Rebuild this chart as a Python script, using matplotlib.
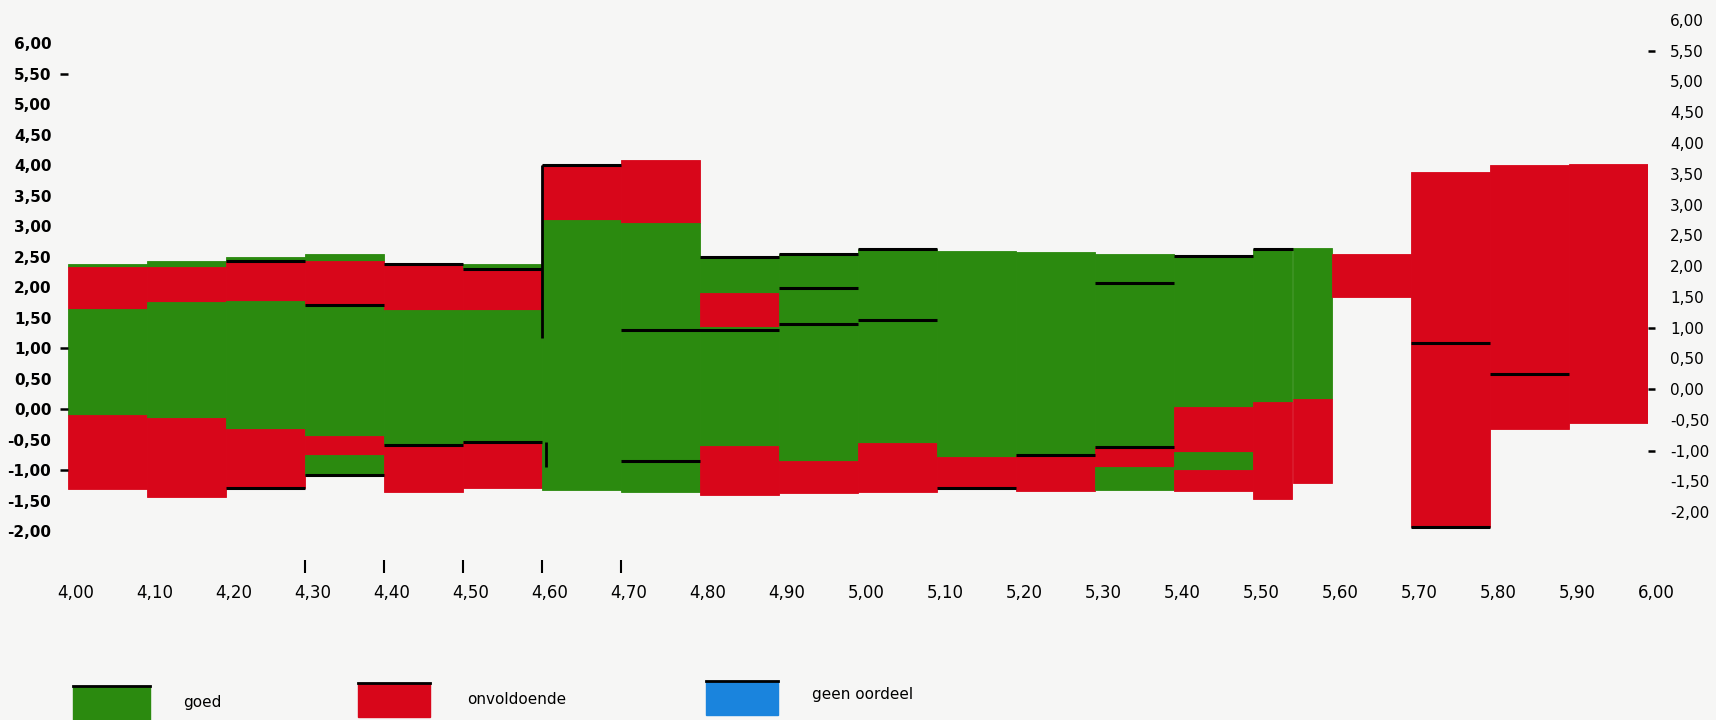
import numpy as np
import matplotlib
matplotlib.use("Agg")
import matplotlib.pyplot as plt
import matplotlib.ticker as mtick
import matplotlib.transforms as mtrans

# bins along the x axis (left / right edge)
bin_left = [4.00, 4.10, 4.20, 4.30, 4.40, 4.50, 4.60, 4.70, 4.80, 4.90, 5.00,
            5.10, 5.20, 5.30, 5.40, 5.50, 5.55, 5.60, 5.70, 5.80, 5.90]
bin_right = [4.10, 4.20, 4.30, 4.40, 4.50, 4.60, 4.70, 4.80, 4.90, 5.00, 5.10,
             5.20, 5.30, 5.40, 5.50, 5.55, 5.60, 5.70, 5.80, 5.90, 6.00]

# segment boundaries per bin, top to bottom
bounds = [
    [2.38, 2.33, 1.64, -0.10, -1.31],
    [2.43, 2.33, 1.75, -0.15, -1.44],
    [2.49, 2.41, 1.77, -0.33, -1.30],
    [2.54, 2.43, 1.70, -0.44, -0.75, -1.08],
    [2.37, 1.62, -0.59, -1.36],
    [2.38, 2.30, 1.63, -0.54, -1.30],
    [4.00, 3.10, -1.33],
    [4.09, 3.05, -1.36],
    [2.49, 1.91, 1.35, -0.61, -1.41],
    [2.54, -0.86, -1.37],
    [2.62, -0.55, -1.36],
    [2.59, -0.79, -1.30],
    [2.57, -0.75, -1.34],
    [2.54, -0.63, -0.95, -1.32],
    [2.51, 0.04, -0.70, -1.00, -1.34],
    [2.62, 0.12, -1.48],
    [2.64, 0.16, -1.21],
    [2.54, 1.84],
    [3.89, -1.93],
    [4.00, -0.32],
    [4.02, -0.23],
]
# oordeel of each segment (g = goed, o = onvoldoende)
segs = [
    "gogo", "gogo", "gogo", "gogog", "ogo", "gogo", "og", "og", "gogo",
    "go", "go", "go", "go", "gog", "gogo", "go", "go", "o", "o", "o", "o",
]

# black marker lines: x from, x to, value
line_x0 = [4.20, 4.20, 4.30, 4.30, 4.40, 4.40, 4.50, 4.50, 4.60, 4.70, 4.70,
           4.80, 4.90, 4.90, 4.90, 5.00, 5.00, 5.10, 5.20, 5.30, 5.30, 5.40,
           5.50, 5.70, 5.70, 5.80]
line_x1 = [4.30, 4.30, 4.40, 4.40, 4.50, 4.50, 4.60, 4.60, 4.70, 4.90, 4.80,
           4.90, 5.00, 5.00, 5.00, 5.10, 5.10, 5.20, 5.30, 5.40, 5.40, 5.50,
           5.55, 5.80, 5.80, 5.90]
line_y = [2.42, -1.30, 1.70, -1.08, 2.38, -0.59, 2.30, -0.54, 4.00, 1.30, -0.86,
          2.49, 2.54, 1.98, 1.40, 2.62, 1.46, -1.30, -0.75, 2.07, -0.63, 2.51,
          2.62, 1.08, -1.93, 0.57]
vline_x = [4.60, 4.605]
vline_top = [4.00, -0.54]
vline_bottom = [1.16, -0.95]

colors = {"g": "#2b8a0f", "o": "#d8061a", "b": "#1a84dd"}
legend_labels = ["goed", "onvoldoende", "geen oordeel"]

x_ticks = np.round(np.arange(4.0, 6.001, 0.1), 2)
marked_x = [4.3, 4.4, 4.5, 4.6, 4.7]
y_ticks = np.arange(-2.0, 6.001, 0.5)
marked_y = [5.5, 1.0, 0.0, -1.0]

W, H = 1716, 720
fig = plt.figure(figsize=(W / 100, H / 100), dpi=100)
fig.patch.set_facecolor("#f6f6f5")
ax = fig.add_axes([68 / W, 1 - 560 / H, 1580 / W, 560 / H])
ax.set_facecolor("none")

for left, right, b, s in zip(bin_left, bin_right, bounds, segs):
    for i, key in enumerate(s):
        ax.bar(left, b[i] - b[i + 1], bottom=b[i + 1], width=right - left,
               align="edge", color=colors[key], edgecolor=colors[key], linewidth=0.6)

ax.hlines(line_y, line_x0, line_x1, color="black", linewidth=2.2)
ax.vlines(vline_x, vline_bottom, vline_top, color="black", linewidth=2.0)

ax.set_xlim(4.0, 6.0)
ax.set_ylim(-2.475, 6.705)
for sp in ax.spines.values():
    sp.set_visible(False)

comma = mtick.FuncFormatter(lambda v, p: ("%.2f" % v).replace(".", ","))

ax.xaxis.remove_overlapping_locs = False
ax.set_xticks(x_ticks)
ax.xaxis.set_major_formatter(comma)
ax.set_xticks(marked_x, minor=True)
ax.tick_params(axis="x", which="major", length=0, pad=17, labelsize=12)
ax.tick_params(axis="x", which="minor", length=9, width=1.5, direction="out")
shift = mtrans.ScaledTranslation(8 / 100, 0, fig.dpi_scale_trans)
for lbl in ax.get_xticklabels():
    lbl.set_transform(lbl.get_transform() + shift)

ax.yaxis.remove_overlapping_locs = False
ax.set_yticks(y_ticks)
ax.yaxis.set_major_formatter(comma)
ax.set_yticks(marked_y, minor=True)
ax.tick_params(axis="y", which="major", length=0, pad=12, labelsize=11)
ax.tick_params(axis="y", which="minor", length=6, width=1.8, direction="out")
for lbl in ax.get_yticklabels():
    lbl.set_fontweight("bold")

# right axis is printed slightly shifted in the original
ax2 = ax.twinx()
ax2.set_ylim(-2.78, 6.325)
for sp in ax2.spines.values():
    sp.set_visible(False)
ax2.yaxis.remove_overlapping_locs = False
ax2.set_yticks(y_ticks)
ax2.yaxis.set_major_formatter(comma)
ax2.set_yticks(marked_y, minor=True)
ax2.tick_params(axis="y", which="major", length=0, pad=16, labelsize=11)
ax2.tick_params(axis="y", which="minor", length=5, width=1.8, direction="out")

# legend drawn as loose boxes under the chart
box_x = [73, 358, 706]
box_y = [686, 683, 681]
box_w = [77, 72, 72]
txt_x = [183, 467, 812]
txt_y = [703, 700, 695]
for key, lab, bx, by, bw, tx, ty in zip("gob", legend_labels, box_x, box_y, box_w, txt_x, txt_y):
    fig.patches.append(plt.Rectangle((bx / W, 1 - (by + 34) / H), bw / W, 34 / H,
                                     transform=fig.transFigure, color=colors[key]))
    fig.lines.append(plt.Line2D([bx / W, (bx + bw) / W], [1 - by / H] * 2,
                                transform=fig.transFigure, color="black", linewidth=2))
    fig.text(tx / W, 1 - ty / H, lab, fontsize=11, va="center", ha="left")

fig.savefig("out.png", dpi=100, facecolor=fig.get_facecolor())
